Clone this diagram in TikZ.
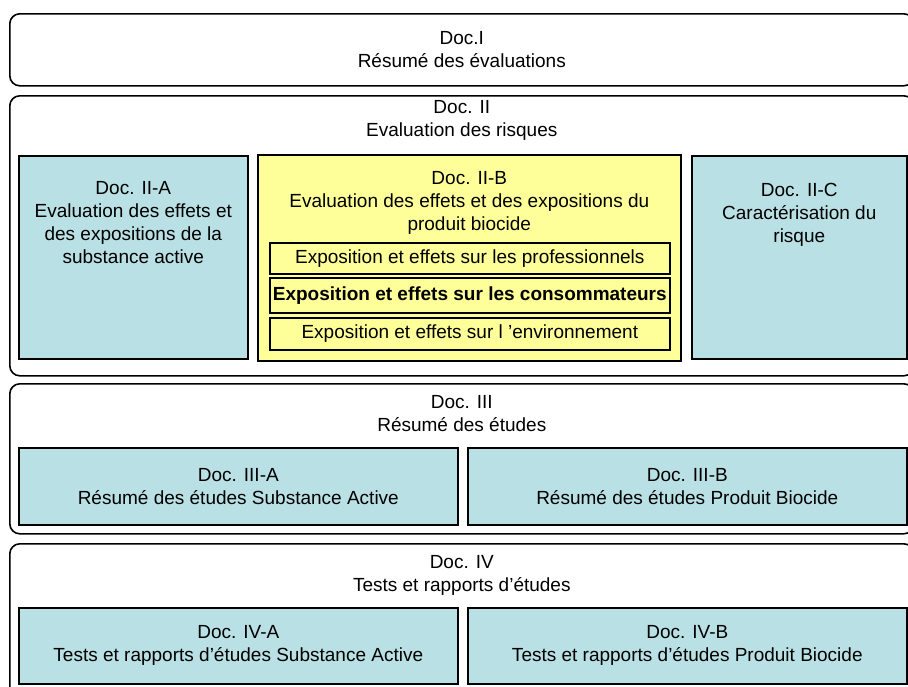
\documentclass[tikz,border=0pt]{standalone}
\usepackage{fontspec}
\setmainfont{Liberation Sans}
\usepackage{xcolor}
\usepackage{tikz}
\usetikzlibrary{positioning}

\definecolor{docblue}{RGB}{185,224,228}
\definecolor{docyellow}{RGB}{255,255,153}

\begin{document}
\begin{tikzpicture}[
  x=1pt, y=-1pt,
  font=\fontsize{19}{23}\selectfont,
  part/.style={draw, line width=1.6pt, rounded corners=10pt, minimum width=904pt, anchor=north west, align=center, inner sep=0pt},
  doc/.style={draw, line width=1.6pt, fill=docblue, anchor=north west, align=center, inner sep=0pt},
  sub/.style={draw, line width=1.6pt, fill=docyellow, anchor=north west, align=center, inner sep=0pt, minimum width=400pt},
  txt/.style={align=center, inner sep=0pt}
]
\useasboundingbox (0,0) rectangle (908,686);
\clip (0,0) rectangle (908,686);

% the four parts of the dossier
\node[part, minimum height=72pt] (docI) at (9,13) {Doc.I\\Résumé des évaluations};
\node[part, minimum height=280pt] (docII) at (9,95) {};
\node[part, minimum height=150pt] (docIII) at (9,383) {};
\node[part, minimum height=160pt] (docIV) at (9,543) {};

\node[txt, below=5pt of docII.north] (titleII) {Doc. II\\Evaluation des risques};
\node[txt, below=12pt of docIII.north] (titleIII) {Doc. III\\Résumé des études};
\node[txt, below=12pt of docIV.north] (titleIV) {Doc. IV\\Tests et rapports d’études};

% Doc. II
\node[doc, minimum width=229pt, minimum height=203pt] (docIIA) at (18,155) {};
\node[txt, below=26pt of docIIA.north] (textIIA) {Doc. II-A\\Evaluation des effets et\\des expositions de la\\substance active};

\node[doc, fill=docyellow, minimum width=423pt, minimum height=206pt] (docIIB) at (257,154) {};
\node[txt, below=17pt of docIIB.north] (textIIB) {Doc. II-B\\Evaluation des effets et des expositions du\\produit biocide};
\node[sub, minimum height=31pt] (pro) at (269,242) {Exposition et effets sur les professionnels};
\node[sub, minimum height=35pt] (conso) at (269,277) {\bfseries Exposition et effets sur les consommateurs};
\node[sub, minimum height=32pt] (envir) at (269,317) {Exposition et effets sur l ’environnement};

\node[doc, minimum width=215pt, minimum height=203pt] (docIIC) at (691,155) {};
\node[txt, below=28pt of docIIC.north] (textIIC) {Doc. II-C\\Caractérisation du\\risque};

% Doc. III
\node[doc, minimum width=439pt, minimum height=77pt] (docIIIA) at (18,447) {Doc. III-A\\Résumé des études Substance Active};
\node[doc, minimum width=439pt, minimum height=77pt] (docIIIB) at (467,447) {Doc. III-B\\Résumé des études Produit Biocide};

% Doc. IV
\node[doc, minimum width=439pt, minimum height=76pt] (docIVA) at (18,607) {Doc. IV-A\\Tests et rapports d’études Substance Active};
\node[doc, minimum width=439pt, minimum height=76pt] (docIVB) at (467,607) {Doc. IV-B\\Tests et rapports d’études Produit Biocide};
\end{tikzpicture}
\end{document}
